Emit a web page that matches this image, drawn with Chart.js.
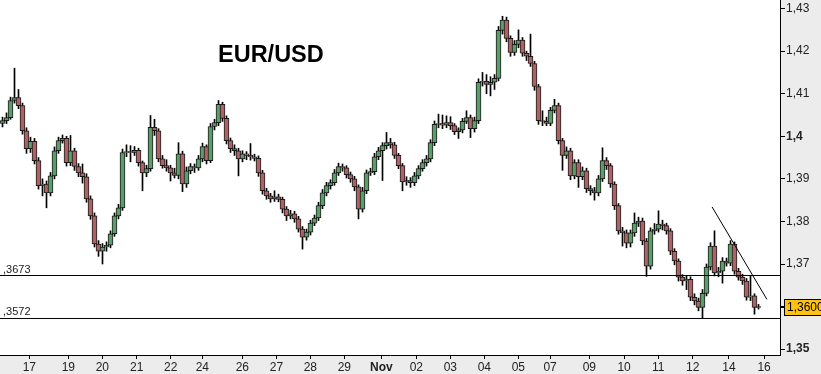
<!DOCTYPE html>
<html>
<head>
<meta charset="utf-8">
<script src="https://cdn.jsdelivr.net/npm/chart.js@4.4.0/dist/chart.umd.min.js"></script>
<style>
  html, body { margin: 0; padding: 0; background: #ececec; }
  #wrap { width: 821px; height: 374px; }
</style>
</head>
<body>
<div id="wrap"><canvas id="chart" width="821" height="374"></canvas></div>
<script>
// ---------- EUR/USD candles (one per bar, oldest first) ----------
const opens = [
  1.4030,1.4037,1.4044,1.4084,1.4091,1.4072,1.4013,1.3971,1.3988,1.3943,
  1.3884,1.3888,1.3867,1.3907,1.3966,1.3990,1.3995,1.3938,1.3966,1.3929,
  1.3914,1.3905,1.3853,1.3813,1.3747,1.3730,1.3740,1.3744,1.3771,1.3813,
  1.3832,1.3962,1.3964,1.3962,1.3967,1.3938,1.3914,1.3924,1.4021,1.4013,
  1.3947,1.3931,1.3926,1.3914,1.3908,1.3959,1.3888,1.3919,1.3929,1.3926,
  1.3947,1.3976,1.3943,1.4023,1.4032,1.4075,1.4042,1.3990,1.3971,1.3966,
  1.3947,1.3959,1.3955,1.3952,1.3948,1.3914,1.3872,1.3860,1.3853,1.3858,
  1.3852,1.3829,1.3813,1.3818,1.3806,1.3782,1.3763,1.3775,1.3796,1.3808,
  1.3837,1.3867,1.3884,1.3891,1.3914,1.3929,1.3926,1.3910,1.3900,1.3881,
  1.3829,1.3872,1.3914,1.3917,1.3952,1.3966,1.3978,1.3985,1.3980,1.3955,
  1.3931,1.3893,1.3896,1.3891,1.3907,1.3924,1.3938,1.3947,1.3985,1.4028,
  1.4030,1.4026,1.4032,1.4025,1.4011,1.4015,1.4035,1.4044,1.4018,1.4037,
  1.4127,1.4129,1.4122,1.4127,1.4136,1.4249,1.4273,1.4230,1.4197,1.4216,
  1.4226,1.4195,1.4188,1.4171,1.4117,1.4037,1.4035,1.4030,1.4061,1.4072,
  1.3990,1.3955,1.3966,1.3907,1.3938,1.3905,1.3919,1.3877,1.3872,1.3867,
  1.3900,1.3943,1.3931,1.3888,1.3837,1.3778,1.3773,1.3749,1.3773,1.3796,
  1.3801,1.3754,1.3695,1.3778,1.3782,1.3794,1.3790,1.3778,1.3730,1.3707,
  1.3669,1.3660,1.3664,1.3622,1.3613,1.3598,1.3631,1.3693,1.3742,1.3679,
  1.3683,1.3707,1.3702,1.3747,1.3683,1.3669,1.3660,1.3622,1.3625,1.3598
];
const highs = [
  1.4045,1.4055,1.4092,1.4160,1.4110,1.4078,1.4020,1.3998,1.3995,1.3950,
  1.3900,1.3895,1.3915,1.3975,1.3998,1.4003,1.4000,1.4002,1.3972,1.3936,
  1.3935,1.3912,1.3860,1.3820,1.3755,1.3748,1.3752,1.3778,1.3820,1.3840,
  1.3970,1.3980,1.3978,1.3976,1.3972,1.3942,1.3932,1.4049,1.4040,1.4018,
  1.3955,1.3945,1.3932,1.3925,1.3985,1.3965,1.3928,1.3936,1.3935,1.3955,
  1.3984,1.3980,1.4030,1.4040,1.4084,1.4080,1.4048,1.3996,1.3980,1.3972,
  1.3966,1.3964,1.3983,1.3958,1.3954,1.3920,1.3878,1.3866,1.3872,1.3864,
  1.3857,1.3835,1.3826,1.3824,1.3812,1.3788,1.3782,1.3803,1.3815,1.3845,
  1.3875,1.3892,1.3898,1.3922,1.3937,1.3935,1.3931,1.3916,1.3906,1.3886,
  1.3880,1.3921,1.3925,1.3960,1.3974,1.3985,1.4009,1.3995,1.3986,1.3960,
  1.3936,1.3905,1.3903,1.3915,1.3931,1.3945,1.3955,1.3992,1.4036,1.4052,
  1.4050,1.4048,1.4046,1.4030,1.4020,1.4042,1.4060,1.4050,1.4045,1.4135,
  1.4150,1.4145,1.4140,1.4145,1.4258,1.4282,1.4280,1.4236,1.4225,1.4250,
  1.4232,1.4200,1.4240,1.4176,1.4122,1.4060,1.4045,1.4068,1.4087,1.4078,
  1.3995,1.3975,1.3972,1.3945,1.3945,1.3928,1.3925,1.3884,1.3880,1.3908,
  1.3973,1.3950,1.3936,1.3893,1.3842,1.3786,1.3780,1.3780,1.3820,1.3810,
  1.3808,1.3760,1.3785,1.3795,1.3825,1.3803,1.3796,1.3783,1.3736,1.3712,
  1.3675,1.3672,1.3670,1.3630,1.3620,1.3640,1.3700,1.3750,1.3778,1.3692,
  1.3715,1.3714,1.3755,1.3752,1.3690,1.3676,1.3666,1.3671,1.3630,1.3605
];
const lows = [
  1.4022,1.4030,1.4040,1.4078,1.4065,1.4005,1.3960,1.3962,1.3935,1.3876,
  1.3860,1.3832,1.3860,1.3900,1.3960,1.3984,1.3930,1.3931,1.3920,1.3905,
  1.3890,1.3845,1.3805,1.3740,1.3718,1.3700,1.3730,1.3738,1.3765,1.3806,
  1.3826,1.3952,1.3940,1.3955,1.3930,1.3872,1.3905,1.3918,1.4002,1.3940,
  1.3925,1.3918,1.3895,1.3902,1.3900,1.3870,1.3880,1.3912,1.3915,1.3920,
  1.3940,1.3935,1.3938,1.4015,1.4025,1.4035,1.3982,1.3962,1.3955,1.3907,
  1.3940,1.3945,1.3944,1.3942,1.3906,1.3864,1.3852,1.3845,1.3847,1.3846,
  1.3820,1.3802,1.3806,1.3798,1.3775,1.3735,1.3756,1.3768,1.3790,1.3802,
  1.3830,1.3860,1.3876,1.3885,1.3908,1.3918,1.3902,1.3892,1.3872,1.3806,
  1.3822,1.3865,1.3908,1.3910,1.3945,1.3896,1.3970,1.3972,1.3948,1.3924,
  1.3872,1.3885,1.3880,1.3884,1.3900,1.3918,1.3930,1.3940,1.3978,1.4020,
  1.4018,1.4020,1.4016,1.4004,1.3995,1.4008,1.4030,1.3997,1.4010,1.4030,
  1.4118,1.4100,1.4095,1.4110,1.4130,1.4240,1.4222,1.4188,1.4190,1.4208,
  1.4188,1.4178,1.4164,1.4108,1.4028,1.4025,1.4025,1.4025,1.4055,1.3982,
  1.3920,1.3948,1.3898,1.3900,1.3880,1.3898,1.3868,1.3862,1.3850,1.3860,
  1.3894,1.3922,1.3880,1.3828,1.3770,1.3742,1.3738,1.3740,1.3765,1.3788,
  1.3745,1.3671,1.3688,1.3770,1.3775,1.3780,1.3770,1.3722,1.3698,1.3660,
  1.3650,1.3640,1.3614,1.3604,1.3590,1.3572,1.3625,1.3686,1.3672,1.3670,
  1.3655,1.3695,1.3696,1.3676,1.3662,1.3652,1.3615,1.3614,1.3582,1.3594
];
const closes = [
  1.4037,1.4044,1.4084,1.4091,1.4072,1.4013,1.3971,1.3988,1.3943,1.3884,
  1.3888,1.3867,1.3907,1.3966,1.3990,1.3995,1.3938,1.3966,1.3929,1.3914,
  1.3905,1.3853,1.3813,1.3747,1.3730,1.3740,1.3744,1.3771,1.3813,1.3832,
  1.3962,1.3964,1.3962,1.3967,1.3938,1.3914,1.3924,1.4021,1.4013,1.3947,
  1.3931,1.3926,1.3914,1.3908,1.3959,1.3888,1.3919,1.3929,1.3926,1.3947,
  1.3976,1.3943,1.4023,1.4032,1.4075,1.4042,1.3990,1.3971,1.3966,1.3947,
  1.3959,1.3955,1.3952,1.3948,1.3914,1.3872,1.3860,1.3853,1.3858,1.3852,
  1.3829,1.3813,1.3818,1.3806,1.3782,1.3763,1.3775,1.3796,1.3808,1.3837,
  1.3867,1.3884,1.3891,1.3914,1.3929,1.3926,1.3910,1.3900,1.3881,1.3829,
  1.3872,1.3914,1.3917,1.3952,1.3966,1.3978,1.3985,1.3980,1.3955,1.3931,
  1.3893,1.3896,1.3891,1.3907,1.3924,1.3938,1.3947,1.3985,1.4028,1.4030,
  1.4026,1.4032,1.4025,1.4011,1.4015,1.4035,1.4044,1.4018,1.4037,1.4127,
  1.4129,1.4122,1.4127,1.4136,1.4249,1.4273,1.4230,1.4197,1.4216,1.4226,
  1.4195,1.4188,1.4171,1.4117,1.4037,1.4035,1.4030,1.4061,1.4072,1.3990,
  1.3955,1.3966,1.3907,1.3938,1.3905,1.3919,1.3877,1.3872,1.3867,1.3900,
  1.3943,1.3931,1.3888,1.3837,1.3778,1.3773,1.3749,1.3773,1.3796,1.3801,
  1.3754,1.3695,1.3778,1.3782,1.3794,1.3790,1.3778,1.3730,1.3707,1.3669,
  1.3660,1.3664,1.3622,1.3613,1.3598,1.3631,1.3693,1.3742,1.3679,1.3683,
  1.3707,1.3702,1.3747,1.3683,1.3669,1.3660,1.3622,1.3625,1.3598,1.3600
];

// date ticks (position in bar units) and their labels
const dateTickPos = [6.7, 16.45, 24.95, 33.55, 42.05, 49.95, 59.95, 68.5, 76.95, 85.45, 94.7,
  103.45, 111.95, 120.45, 128.95, 136.9, 146.7, 155.4, 163.95, 172.55, 181.6, 190.4];
const dateTickLabels = ["17", "19", "20", "21", "22", "24", "26", "27", "28", "29", "Nov",
  "02", "03", "04", "05", "07", "09", "10", "11", "12", "14", "16"];

const priceTicks = [1.35, 1.36, 1.37, 1.38, 1.39, 1.40, 1.41, 1.42, 1.43];
const priceTickLabels = ["1,35", "1,36", "1,37", "1,38", "1,39", "1,4", "1,41", "1,42", "1,43"];

// support levels and the falling trend line
const levels = [1.3673, 1.3572];
const levelLabels = [",3673", ",3572"];
const trendX = [177.4, 191.1];
const trendY = [1.3834, 1.3617];
const lastPriceLabel = "1,3600";

const X_MIN = -0.625, X_MAX = 194.375;
const Y_MIN = 1.348625, Y_MAX = 1.432017;

const UP = "#5c9e69", DOWN = "#ad6366";

const bodies = opens.map((o, i) => ({ x: i, y: [o, closes[i]] }));
const wicks = lows.map((l, i) => ({ x: i, y: [l, highs[i]] }));

const levelSets = levels.map((lv) => ({
  type: "line",
  data: [{ x: X_MIN, y: lv }, { x: X_MAX, y: lv }],
  borderColor: "#000",
  borderWidth: 1,
  pointRadius: 0,
  order: 0,
}));

// no label overhang padding: plot runs to the canvas edge
const noPad = (s) => { s.paddingLeft = 0; s.paddingRight = 0; s.paddingTop = 0; s.paddingBottom = 0; };

const decor = {
  id: "decor",
  beforeDraw(chart) {
    const { ctx, chartArea: a } = chart;
    ctx.save();
    ctx.fillStyle = "#ececec";
    ctx.fillRect(0, 0, chart.width, chart.height);
    ctx.fillStyle = "#fff";
    ctx.fillRect(a.left, a.top, a.right - a.left, a.bottom - a.top);
    ctx.restore();
  },
  afterDraw(chart) {
    const { ctx, chartArea: a } = chart;
    const y = chart.scales.y;
    ctx.save();
    // title
    ctx.fillStyle = "#000";
    ctx.font = "bold 23.5px 'Liberation Sans', Arial, sans-serif";
    ctx.textBaseline = "alphabetic";
    ctx.fillText("EUR/USD", 218, 62);
    // level labels
    ctx.font = "11px 'Liberation Sans', Arial, sans-serif";
    ctx.fillStyle = "#222";
    levels.forEach((lv, i) => {
      ctx.fillText(levelLabels[i], a.left + 3, Math.round(y.getPixelForValue(lv)) - 3);
    });
    // last price box on the axis
    const py = Math.round(y.getPixelForValue(closes[closes.length - 1]));
    ctx.strokeStyle = "#000";
    ctx.lineWidth = 1;
    ctx.beginPath();
    ctx.moveTo(a.right, py + 0.5);
    ctx.lineTo(a.right + 5, py + 0.5);
    ctx.stroke();
    ctx.fillStyle = "#ffc20e";
    ctx.fillRect(a.right + 4.5, py - 7.5, 40, 16);
    ctx.strokeRect(a.right + 4.5, py - 7.5, 40, 16);
    ctx.fillStyle = "#000";
    ctx.font = "12px 'Liberation Sans', Arial, sans-serif";
    ctx.textBaseline = "middle";
    ctx.fillText(lastPriceLabel, a.right + 7, py + 1);
    ctx.restore();
  },
};

new Chart(document.getElementById("chart"), {
  type: "bar",
  data: {
    datasets: [
      {
        data: bodies,
        backgroundColor: (c) => (closes[c.dataIndex] >= opens[c.dataIndex] ? UP : DOWN),
        borderColor: "#1a1a1a",
        borderWidth: 1,
        borderSkipped: false,
        barThickness: 5,
        grouped: false,
        order: 1,
      },
      {
        data: wicks,
        backgroundColor: "#000",
        borderWidth: 0,
        barThickness: 1,
        grouped: false,
        order: 2,
      },
      ...levelSets,
      {
        type: "line",
        data: trendX.map((x, i) => ({ x: x, y: trendY[i] })),
        borderColor: "#000",
        borderWidth: 1,
        pointRadius: 0,
        order: 0,
      },
    ],
  },
  options: {
    responsive: false,
    animation: false,
    layout: { padding: 0 },
    plugins: { legend: { display: false }, tooltip: { enabled: false } },
    scales: {
      x: {
        type: "linear",
        min: X_MIN,
        max: X_MAX,
        offset: false,
        afterBuildTicks: (s) => { s.ticks = dateTickPos.map((v) => ({ value: v })); },
        afterFit: (s) => { s.height = 19; noPad(s); },
        grid: { drawOnChartArea: false, offset: false, color: "#000", tickLength: 4 },
        border: { display: true, color: "#000", width: 1 },
        ticks: {
          autoSkip: false,
          maxRotation: 0,
          padding: 1,
          color: "#222",
          font: (c) => ({
            family: "'Liberation Sans', Arial, sans-serif",
            size: 12,
            weight: dateTickLabels[c.index] === "Nov" ? "bold" : "normal",
          }),
          callback: (v, i) => dateTickLabels[i],
        },
      },
      y: {
        position: "right",
        min: Y_MIN,
        max: Y_MAX,
        afterBuildTicks: (s) => { s.ticks = priceTicks.map((v) => ({ value: v })); },
        afterFit: (s) => { s.width = 41; noPad(s); },
        grid: { drawOnChartArea: false, color: "#000", tickLength: 5 },
        border: { display: true, color: "#000", width: 1 },
        ticks: {
          padding: 1,
          color: "#222",
          font: (c) => ({
            family: "'Liberation Sans', Arial, sans-serif",
            size: 12,
            weight: ["1,35", "1,4"].includes(priceTickLabels[c.index]) ? "bold" : "normal",
          }),
          callback: (v, i) => priceTickLabels[i],
        },
      },
    },
  },
  plugins: [decor],
});
</script>
</body>
</html>
